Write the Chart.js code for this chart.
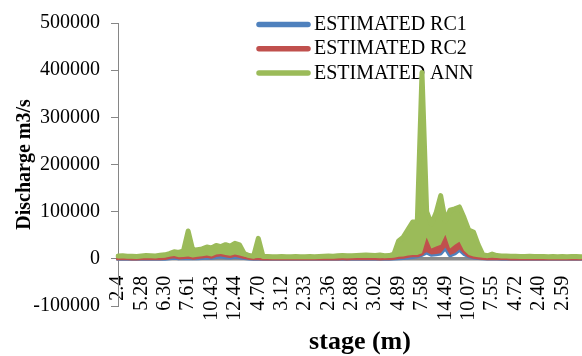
<!DOCTYPE html>
<html><head><meta charset="utf-8">
<script src="https://cdn.jsdelivr.net/npm/chart.js@4/dist/chart.umd.min.js"></script>
<style>html,body{margin:0;padding:0;background:#fff;}canvas{display:block;}</style>
</head><body>
<canvas id="c" width="582" height="356"></canvas>
<script>
// ---- data ----
const stages = ["2.4","2.95","3.61","4.12","4.83","5.28","5.41","5.66","5.90","6.12",
 "6.30","6.58","6.87","7.14","7.40","7.61","8.05","8.62","9.10","9.88",
 "10.43","10.97","11.36","11.80","12.21","12.44","11.02","9.35","7.48","5.96",
 "4.70","4.21","3.86","3.55","3.30","3.12","2.97","2.78","2.61","2.45",
 "2.33","2.29","2.31","2.30","2.34","2.36","2.41","2.52","2.63","2.75",
 "2.88","2.91","2.95","2.98","3.00","3.02","3.18","3.49","3.92","4.40",
 "4.89","5.46","6.11","6.70","7.15","7.58","8.93","10.25","11.82","13.37",
 "14.49","13.91","12.88","11.76","10.85","10.07","9.44","8.79","8.30","7.91",
 "7.55","6.84","6.12","5.50","5.09","4.72","4.05","3.47","2.96","2.63",
 "2.40","2.38","2.45","2.50","2.56","2.59","2.62","2.60","2.57","2.55"];

const estimatedRC1 = [600,700,600,500,500,600,700,700,600,800,
 900,2000,3000,1500,2000,2500,1500,2000,2500,3500,
 2500,4500,5500,4000,3500,5000,4000,2500,1200,700,
 1000,600,500,500,500,500,500,500,500,500,
 500,500,500,500,600,600,600,700,700,700,
 700,800,800,800,800,700,700,800,900,1200,
 2000,2500,3500,4500,6000,9000,14000,9000,10000,12000,
 24000,8000,12000,20000,11000,6000,3500,2500,1500,1200,
 1200,1000,900,900,800,800,800,700,700,700,
 700,600,700,600,600,700,600,600,700,600];

const estimatedRC2 = [1500,1800,1500,1400,1300,1600,1800,1700,1600,2000,
 2200,4500,6000,3500,4000,5000,3000,4500,5500,7000,
 5000,9000,10500,8000,6500,9000,7000,4500,2500,1500,
 2000,1200,1200,1100,1000,1100,1000,1000,1100,1000,
 1000,1100,1000,1200,1300,1400,1300,1500,1600,1500,
 1600,1700,1600,1800,1700,1600,1500,1700,1800,2500,
 4500,5000,7000,8000,8000,12000,45000,22000,26000,30000,
 51000,22000,30000,36000,17000,8000,5000,3500,2500,2000,
 2200,1800,1700,1600,1500,1500,1400,1400,1500,1400,
 1300,1300,1400,1300,1300,1400,1300,1300,1400,1300];

const estimatedANN = [6000,6500,5500,5500,5000,6000,7000,6500,6000,7500,
 8500,11000,15000,13500,17000,59000,18000,19500,21000,25000,
 23000,28500,26000,30000,27000,33000,29500,11000,7000,5500,
 43500,5000,5000,4500,4500,5000,4500,4500,5000,4500,
 4500,5000,4500,5000,5500,6000,5500,6500,7000,6500,
 6500,7000,7500,8000,7500,7000,8000,6500,7000,10000,
 38000,46000,62000,78000,80000,395000,100000,74000,97000,134000,
 80000,103000,106000,110000,87000,61000,57000,30000,9000,6500,
 10000,7000,6000,6000,5500,5500,5000,5000,5500,5000,
 5000,5000,4500,5000,4500,5000,4500,5000,5000,4500];

const seriesNames = ["ESTIMATED RC1","ESTIMATED RC2","ESTIMATED ANN"];
const seriesColors = ["#4F81BD","#C0504D","#9BBB59"];
const yTickValues = [-100000,0,100000,200000,300000,400000,500000];
const labelEvery = 5;
const xTitle = "stage (m)";
const yTitle = "Discharge m3/s";

const SERIF = "'Liberation Serif','Times New Roman',serif";

const legendPlugin = {
  id: 'boxLegend',
  beforeDatasetsDraw(chart) {
    const ctx = chart.ctx;
    ctx.save();
    chart.data.datasets.forEach((ds, i) => {
      const y = 24.5 + i * 24.2;
      ctx.strokeStyle = ds.borderColor;
      ctx.lineWidth = 5.5;
      ctx.lineCap = 'round';
      ctx.beginPath(); ctx.moveTo(259, y); ctx.lineTo(308, y); ctx.stroke();
      ctx.fillStyle = '#000';
      ctx.font = "20px " + SERIF;
      ctx.textAlign = 'left';
      ctx.textBaseline = 'middle';
      ctx.fillText(ds.label, 314, y + 0.5);
    });
    ctx.restore();
  }
};

const xTitlePlugin = {
  id: 'xTitle',
  afterDraw(chart) {
    const ctx = chart.ctx;
    ctx.save();
    ctx.fillStyle = '#000';
    ctx.font = "bold 26px " + SERIF;
    ctx.textAlign = 'center';
    ctx.textBaseline = 'middle';
    ctx.fillText(xTitle, 360, 342);
    ctx.restore();
  }
};

const values = [estimatedRC1, estimatedRC2, estimatedANN];
const widths = [4.5, 4.5, 5];
const fills = [false, 0, 1];
const datasets = seriesNames.map((name, i) => ({
  label: name,
  data: values[i],
  borderColor: seriesColors[i],
  backgroundColor: seriesColors[i],
  borderWidth: widths[i],
  pointRadius: 0,
  tension: 0,
  fill: fills[i],
  borderJoinStyle: 'round',
  borderCapStyle: 'round',
  order: 3 - i
}));

new Chart(document.getElementById('c'), {
  type: 'line',
  data: { labels: stages, datasets },
  plugins: [legendPlugin, xTitlePlugin],
  options: {
    responsive: false,
    animation: false,
    devicePixelRatio: 1,
    layout: { padding: { left: 0, right: 1, top: 18, bottom: 50 } },
    plugins: { legend: { display: false }, tooltip: { enabled: false }, title: { display: false }, filler: { propagate: false } },
    scales: {
      x: {
        type: 'category',
        position: { y: 0 },
        offset: false,
        grid: { display: false, drawTicks: false },
        border: { display: true, color: '#8a8a8a', width: 3.5 },
        ticks: {
          autoSkip: false, maxRotation: 90, minRotation: 90, padding: 17,
          color: '#000', font: { family: SERIF, size: 20 },
          callback: function(v, i) { return (i % labelEvery === 0 && i <= 95) ? this.getLabelForValue(v) : ''; }
        },
        afterFit(s) { s.height = 0; s.paddingLeft = 0; s.paddingRight = 0; }
      },
      y: {
        min: -100000, max: 500000,
        grid: { display: true, drawOnChartArea: false, drawTicks: true, tickLength: 7, color: '#868686', lineWidth: 1 },
        border: { display: true, color: '#868686', width: 1 },
        ticks: {
          padding: 11, color: '#000', font: { family: SERIF, size: 20 },
          callback: v => String(v)
        },
        afterBuildTicks(s) { s.ticks = yTickValues.map(v => ({ value: v })); },
        title: { display: true, text: yTitle, color: '#000', font: { family: SERIF, size: 20, weight: 'bold' }, padding: { top: 13, bottom: 0 } },
        afterFit(s) { s.width = 118; }
      }
    }
  }
});
</script>
</body></html>
